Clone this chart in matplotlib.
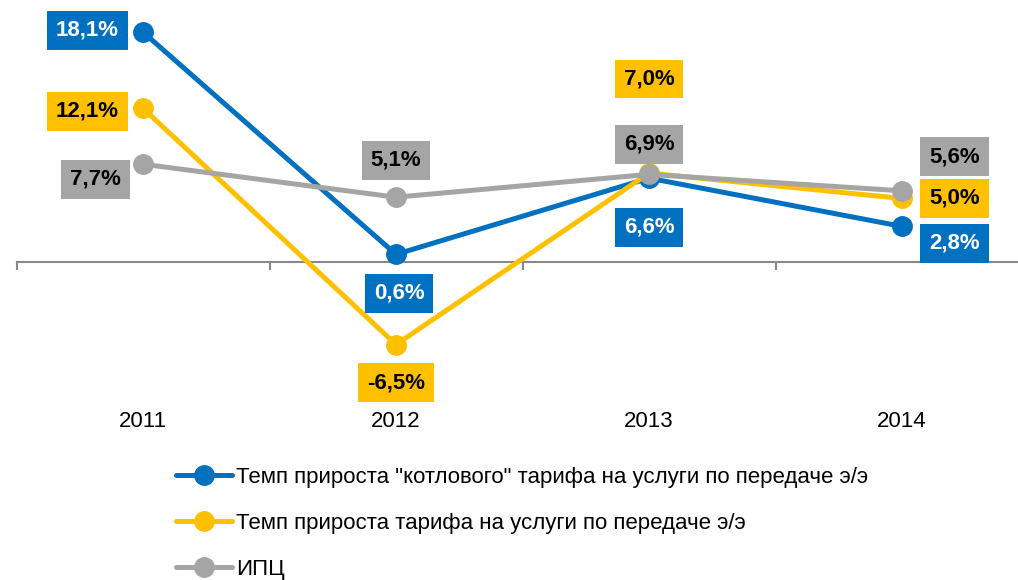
import matplotlib
matplotlib.use("Agg")
import matplotlib.pyplot as plt

plt.rcParams['font.family'] = ['Liberation Sans Narrow', 'Liberation Sans', 'DejaVu Sans']

years = ["2011", "2012", "2013", "2014"]
kotl = [18.1, 0.6, 6.6, 2.8]
tarif = [12.1, -6.5, 7.0, 5.0]
ipc = [7.7, 5.1, 6.9, 5.6]
names = ['Темп прироста "котлового" тарифа на услуги по передаче э/э',
         'Темп прироста тарифа на услуги по передаче э/э',
         'ИПЦ']

c_blue = "#0070C0"
c_yel = "#FFC000"
c_gray = "#A5A5A5"

# label offsets in pixels (dx, dy) for each point
off_blue = [(-24, 2), (3, -39), (0, -49), (27, -17)]
off_yel = [(-24, -3), (0, -38), (0, 94), (27, 0)]
off_gray = [(-22, -15), (0, 37), (0, 30), (27, 34)]

fig = plt.figure(figsize=(10.18, 5.8), dpi=100)
ax = fig.add_axes([16.5 / 1018, 1 - 400 / 580, 1012 / 1018, 400 / 580])
x = list(range(len(years)))

series = [(kotl, c_blue, "white", off_blue, names[0]),
          (tarif, c_yel, "black", off_yel, names[1]),
          (ipc, c_gray, "black", off_gray, names[2])]

for z, (vals, col, tcol, offs, nm) in enumerate(series):
    ax.plot(x, vals, color=col, linewidth=3.6, marker="o", markersize=14,
            label=nm, zorder=3 + z, solid_capstyle="round")
    for i, v in enumerate(vals):
        dx, dy = offs[i]
        if i == 0:
            ha = "right"
        elif i == 3:
            ha = "left"
        else:
            ha = "center"
        txt = ("%.1f%%" % v).replace(".", ",")
        ax.annotate(txt, (i, v), xytext=(dx, dy), textcoords="offset pixels",
                    ha=ha, va="center", fontsize=16, fontweight="bold", color=tcol,
                    bbox=dict(boxstyle="square,pad=0.4", fc=col, ec="none"),
                    zorder=10)

ax.set_xlim(-0.5, 3.5)
ax.set_ylim(-10.87, 20.63)
for s in ["top", "right", "left"]:
    ax.spines[s].set_visible(False)
ax.spines["bottom"].set_position(("data", 0))
ax.spines["bottom"].set_color("#888888")
ax.spines["bottom"].set_linewidth(1.5)
ax.set_yticks([])
ax.set_xticks(x)
ax.set_xticklabels(years)
ax.set_xticks([-0.5, 0.5, 1.5, 2.5, 3.5], minor=True)
ax.tick_params(axis="x", which="major", length=0, pad=107, labelsize=16)
ax.tick_params(axis="x", which="minor", length=6, width=1.5, color="#888888", direction="out")

fig.legend(loc="upper left", bbox_to_anchor=(176 / 1018, 1 - 467 / 580), frameon=False,
           fontsize=16, handlelength=2.5, handletextpad=0.2, labelspacing=1.12,
           borderaxespad=0, borderpad=0)

fig.savefig("out.png", dpi=100)
